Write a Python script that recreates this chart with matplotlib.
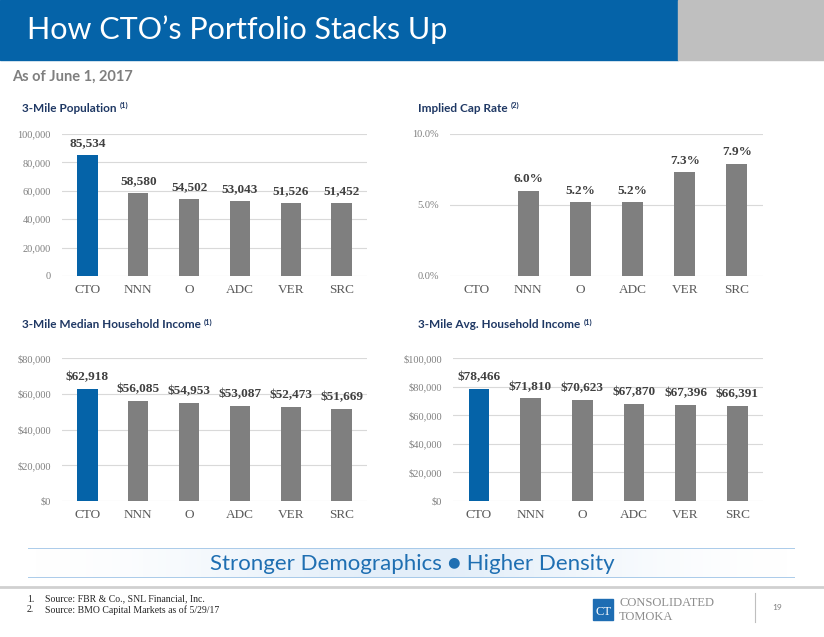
"""Recreation of the 'How CTO's Portfolio Stacks Up' slide."""
import numpy as np
import matplotlib
matplotlib.use("Agg")
import matplotlib.pyplot as plt
from matplotlib.patches import Rectangle

W, H = 824, 637

tickers = ["CTO", "NNN", "O", "ADC", "VER", "SRC"]
population = [85534, 58580, 54502, 53043, 51526, 51452]
cap_rate = [np.nan, 6.0, 5.2, 5.2, 7.3, 7.9]
median_income = [62918, 56085, 54953, 53087, 52473, 51669]
avg_income = [78466, 71810, 70623, 67870, 67396, 66391]

BLUE = "#0563A8"
GREY = "#7F7F7F"
NAVY = "#1F3864"
SERIF = "Liberation Serif"
SANS = "Lato"

fig = plt.figure(figsize=(W / 100, H / 100), dpi=100)


def rect(x0, y0, x1, y1):
    # pixel box (top-left origin) -> figure fraction
    return [x0 / W, 1 - y1 / H, (x1 - x0) / W, (y1 - y0) / H]


def fy(y):
    return 1 - y / H


def fx(x):
    return x / W


# header band
fig.patches.append(Rectangle((0, fy(60)), fx(678), 60 / H, transform=fig.transFigure,
                             color=BLUE, zorder=0))
fig.patches.append(Rectangle((fx(678), fy(60)), 1 - fx(678), 60 / H, transform=fig.transFigure,
                             color="#BFBFBF", zorder=0))
fig.text(fx(27), fy(30), "How CTO\u2019s Portfolio Stacks Up", color="white",
         fontsize=22, family=SANS, va="center", ha="left")
fig.text(fx(12), fy(77), "As of June 1, 2017", color=GREY, fontsize=10.5,
         family=SANS, fontweight="bold", va="center", ha="left")


def panel(box, values, ymax, step, fmt_tick, fmt_lab, title, note, title_xy):
    ax = fig.add_axes(rect(*box))
    x = np.arange(len(tickers))
    colors = [BLUE] + [GREY] * (len(tickers) - 1)
    vals = np.array(values, dtype=float)
    ax.bar(x, np.nan_to_num(vals), width=0.4, color=colors, zorder=3)
    for xi, v in zip(x, vals):
        if np.isnan(v):
            continue
        ax.annotate(fmt_lab(v), (xi, v), xytext=(0, 4), textcoords="offset points",
                    ha="center", va="bottom", fontsize=9.5, fontweight="bold",
                    family=SERIF, color="#404040")
    ax.set_xlim(-0.5, len(tickers) - 0.5)
    ax.set_ylim(0, ymax)
    ticks = np.arange(0, ymax + step / 2, step)
    ax.set_yticks(ticks, [fmt_tick(t) for t in ticks])
    ax.set_xticks(x, tickers)
    for lab in ax.get_yticklabels():
        lab.set_family(SERIF); lab.set_fontsize(7.5); lab.set_color("#7F7F7F")
    for lab in ax.get_xticklabels():
        lab.set_family(SERIF); lab.set_fontsize(9.5); lab.set_color("#595959")
    ax.tick_params(length=0, axis="y", pad=8)
    ax.tick_params(length=0, axis="x", pad=6)
    ax.grid(axis="y", color="#D9D9D9", linewidth=0.8, zorder=0)
    for s in ax.spines.values():
        s.set_visible(False)
    ax.set_facecolor("none")

    t = fig.text(fx(title_xy[0]), fy(title_xy[1]), title, color=NAVY, fontsize=8.5,
                 fontweight="bold", family=SANS, va="center", ha="left")
    r = fig.canvas.get_renderer()
    bb = t.get_window_extent(r)
    fig.text(bb.x1 / W + 3 / W, fy(title_xy[1] - 3), note, color=NAVY, fontsize=5.5,
             fontweight="bold", family=SANS, va="center", ha="left")
    return ax


panel((62, 134, 367, 276), population, 100000, 20000,
      lambda t: f"{t:,.0f}", lambda v: f"{v:,.0f}",
      "3-Mile Population", "(1)", (22, 108))
panel((450, 134, 763, 276), cap_rate, 10.0, 5.0,
      lambda t: f"{t:.1f}%", lambda v: f"{v:.1f}%",
      "Implied Cap Rate", "(2)", (418, 108))
panel((62, 358, 367, 501), median_income, 80000, 20000,
      lambda t: f"${t:,.0f}", lambda v: f"${v:,.0f}",
      "3-Mile Median Household Income", "(1)", (22, 325))
panel((453, 358, 763, 501), avg_income, 100000, 20000,
      lambda t: f"${t:,.0f}", lambda v: f"${v:,.0f}",
      "3-Mile Avg. Household Income", "(1)", (418, 325))

# tagline band
band = fig.add_axes(rect(28, 548, 795, 578))
grad = np.linspace(0, 1, 200)
grad = 1 - np.exp(-((grad - 0.5) ** 2) / 0.08)
band.imshow(grad[None, :], aspect="auto", cmap=matplotlib.colors.LinearSegmentedColormap.from_list(
    "g", ["#E3EEF9", "#FFFFFF"]), extent=(0, 1, 0, 1))
band.set_xlim(0, 1); band.set_ylim(0, 1)
band.axhline(1, color="#9DC3E6", linewidth=1.2)
band.axhline(0, color="#9DC3E6", linewidth=1.2)
band.axis("off")
fig.text(0.5, fy(564), "Stronger Demographics \u25cf Higher Density", color="#1F6FB2",
         fontsize=16, family=SANS, va="center", ha="center")

# footer
fig.add_artist(plt.Line2D([0, 1], [fy(587), fy(587)], color="#D0D0D0", linewidth=2,
                          transform=fig.transFigure))
fig.text(fx(27), fy(599), "1.", fontsize=7, family=SERIF, color="#262626", va="center")
fig.text(fx(45), fy(599), "Source: FBR & Co., SNL Financial, Inc.", fontsize=7,
         family=SERIF, color="#262626", va="center")
fig.text(fx(27), fy(610), "2.", fontsize=7, family=SERIF, color="#262626", va="center")
fig.text(fx(45), fy(610), "Source: BMO Capital Markets as of 5/29/17", fontsize=7,
         family=SERIF, color="#262626", va="center")

fig.patches.append(Rectangle((fx(593), fy(620)), 20 / W, 21 / H, transform=fig.transFigure,
                             color="#1E6DB3", zorder=2))
fig.text(fx(603), fy(612), "CT", color="white", fontsize=9, family=SERIF,
         ha="center", va="center", zorder=3)
fig.text(fx(619), fy(603), "CONSOLIDATED", color="#8C8C8C",
         fontsize=9, family=SERIF, va="center")
fig.text(fx(619), fy(617), "TOMOKA", color="#8C8C8C",
         fontsize=9, family=SERIF, va="center")
fig.add_artist(plt.Line2D([fx(755), fx(755)], [fy(593), fy(622)], color="#BFBFBF",
                          linewidth=0.8, transform=fig.transFigure))
fig.text(fx(772), fy(607), "19", color="#7F7F7F", fontsize=6, family=SANS, va="center")

fig.savefig("out.png", dpi=100)
